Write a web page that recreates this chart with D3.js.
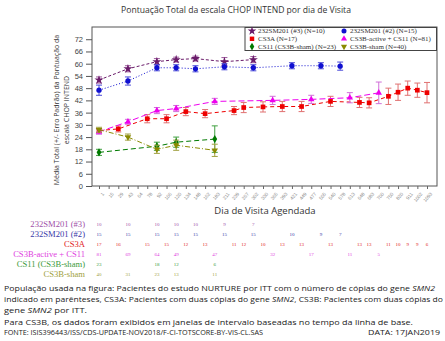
<!DOCTYPE html>
<html><head><meta charset="utf-8">
<script src="https://cdn.jsdelivr.net/npm/d3@7"></script>
<style>body{margin:0;background:#fff}svg{display:block}</style>
</head><body>
<svg id="c" width="445" height="341"></svg>
<script>
const visitDays = ["1","15","29","43","64","78","92","106","120","134","148","162","183","211","239","267","302","330","365","393","421","449","477","505","540","578","613","648","683","700","750","820","911","1002","1093"];
const yTicks = [0,6,12,18,24,30,36,42,48,54,60,66,72];

const s3Days = ["1","43","92","120","148","211","302"];
const s3Mean = [52,57.5,61,62,62.5,61,62];
const s3Err  = [1.5,1.5,1.5,1.2,1.2,2,1.5];
const s3N    = [10,10,10,10,10,9,7];

const s2Days = ["1","43","92","120","148","211","302","421","505","578"];
const s2Mean = [47,51.5,58,58,57.5,58.5,58,59,59,58.8];
const s2Err  = [2.5,2,1.5,1.5,1.5,1.5,1.5,1.5,1.5,2];
const s2N    = [15,15,15,15,15,15,15,10,9,7];

const aDays = ["1","29","78","106","134","162","239","267","330","393","449","540","648","683","750","820","911","1002","1093"];
const aMean = [27.2,28,33,33,36.5,35.5,37,38.5,38.8,39,39,41.5,41,40.8,44,46,48,47,45.8];
const aErr  = [1,1.5,2,2,2,2,2,2.5,2.5,2.5,2.5,2.5,2.5,2.5,4,4,3.5,3.5,5];
const aN    = [17,16,15,15,12,13,11,12,10,13,13,13,13,13,11,10,9,9,6];

const bDays = ["1","43","92","120","183","365","477","613","700"];
const bMean = [26.6,31.5,37,38,41.5,42,42.5,43.3,45.7];
const bErr  = [1.2,1.2,1.5,1.5,1.5,2,2,2.5,5.3];
const bN    = [81,69,64,49,47,32,17,11,5];

const gDays = ["1","92","120","183"];
const gMean = [16.5,19.5,21.5,23];
const gErr  = [1.5,2,2.5,6.5];
const gN    = [23,18,12,6];

const oDays = ["1","43","92","120","183"];
const oMean = [27.6,24,18,20,17.5];
const oErr  = [1.2,1.5,2,2.5,3];
const oN    = [40,31,23,13,11];

const series = [
  {name:"232SM201 (#3)", legend:"232SM201 (#3) (N=10)", days:s3Days, mean:s3Mean, err:s3Err, n:s3N, color:"#6a1b6a", errColor:"#9c5a9c", txt:"#a050a8", sym:d3.symbolStar, size:26, dash:"3,2", rot:0},
  {name:"232SM201 (#2)", legend:"232SM201 (#2) (N=15)", days:s2Days, mean:s2Mean, err:s2Err, n:s2N, color:"#1010d0", errColor:"#4a4ad8", txt:"#3838a8", sym:d3.symbolCircle, size:22, dash:"1,2", rot:0},
  {name:"CS3A", legend:"CS3A (N=17)", days:aDays, mean:aMean, err:aErr, n:aN, color:"#ee0000", errColor:"#e07070", txt:"#e02020", sym:d3.symbolSquare, size:22, dash:"4,3", rot:0},
  {name:"CS3B-active + CS11", legend:"CS3B-active + CS11 (N=81)", days:bDays, mean:bMean, err:bErr, n:bN, color:"#ee00ee", errColor:"#d070d8", txt:"#e040e0", sym:d3.symbolTriangle, size:18, dash:"6,3", rot:0},
  {name:"CS11 (CS3B-sham)", legend:"CS11 (CS3B-sham) (N=23)", days:gDays, mean:gMean, err:gErr, n:gN, color:"#007a00", errColor:"#40a040", txt:"#3a9a3a", sym:d3.symbolDiamond, size:20, dash:"5,3", rot:0},
  {name:"CS3B-sham", legend:"CS3B-sham (N=40)", days:oDays, mean:oMean, err:oErr, n:oN, color:"#8a8a00", errColor:"#a0a040", txt:"#a0a040", sym:d3.symbolTriangle, size:18, dash:"5,2,1,2", rot:180}
];

const svg = d3.select("#c");
const L=92, R=437, T=27, B=186;
const x = d3.scalePoint().domain(visitDays).range([99,427]);
const y = d3.scaleLinear().domain([0,78]).range([B,T]);

svg.append("text").attr("x",236).attr("y",13).attr("text-anchor","middle")
  .attr("font-family","Open Sans").attr("font-size",8.6).attr("fill","#333")
  .text("Pontuação Total da escala CHOP INTEND por dia de Visita");

svg.append("rect").attr("x",L).attr("y",T).attr("width",R-L).attr("height",B-T)
  .attr("fill","none").attr("stroke","#555").attr("stroke-width",1);

const ya = svg.append("g").attr("transform",`translate(${L},0)`)
  .call(d3.axisLeft(y).tickValues(yTicks).tickSize(6).tickPadding(3));
ya.select(".domain").remove();
ya.selectAll("line").attr("stroke","#555");
ya.selectAll("text").attr("font-family","Liberation Sans").attr("font-size",7.5).attr("fill","#444");

const xa = svg.append("g").attr("transform",`translate(0,${B})`)
  .call(d3.axisBottom(x).tickSize(3).tickPadding(2));
xa.select(".domain").remove();
xa.selectAll("line").attr("stroke","#666");
xa.selectAll("text").attr("font-family","Liberation Sans").attr("font-size",4.8).attr("fill","#888")
  .attr("text-anchor","end").attr("dy","0.3em")
  .attr("transform","translate(0,4) rotate(-50)");

svg.append("text").attr("x",265).attr("y",214).attr("text-anchor","middle")
  .attr("font-family","Open Sans").attr("font-size",9.5).attr("fill","#333").text("Dia de Visita Agendada");
const yt = svg.append("text").attr("transform","translate(59,110) rotate(-90)").attr("text-anchor","middle")
  .attr("font-family","Open Sans").attr("font-size",7).attr("fill","#333");
yt.append("tspan").attr("x",0).attr("dy",0).text("Média Total (+/- Erro Padrão) da Pontuação da");
yt.append("tspan").attr("x",0).attr("dy",10).text("escala CHOP INTEND");

const plot = svg.append("g");
series.forEach(s=>{
  const pts = s.days.map((d,i)=>({x:x(d), m:s.mean[i], e:s.err[i]}));
  plot.append("path").datum(pts)
    .attr("d",d3.line().x(p=>p.x).y(p=>y(p.m)))
    .attr("fill","none").attr("stroke",s.color).attr("stroke-width",1).attr("stroke-dasharray",s.dash);
  const eb = plot.append("g").attr("stroke",s.errColor).attr("stroke-width",1);
  pts.forEach(p=>{
    eb.append("line").attr("x1",p.x).attr("x2",p.x).attr("y1",y(p.m-p.e)).attr("y2",y(p.m+p.e));
    eb.append("line").attr("x1",p.x-3).attr("x2",p.x+3).attr("y1",y(p.m-p.e)).attr("y2",y(p.m-p.e));
    eb.append("line").attr("x1",p.x-3).attr("x2",p.x+3).attr("y1",y(p.m+p.e)).attr("y2",y(p.m+p.e));
  });
  plot.append("g").selectAll("path").data(pts).join("path")
    .attr("d",d3.symbol().type(s.sym).size(s.size))
    .attr("transform",p=>`translate(${p.x},${y(p.m)}) rotate(${s.rot})`)
    .attr("fill",s.color);
});

const lg = svg.append("g");
lg.append("rect").attr("x",245).attr("y",T+0.5).attr("width",R-245-0.5).attr("height",23)
  .attr("fill","#fff").attr("stroke","#444").attr("stroke-width",1);
series.forEach((s,i)=>{
  const col=i%2, row=Math.floor(i/2);
  const lx = col===0?252:344, ly = 31+row*7.8;
  lg.append("path").attr("d",d3.symbol().type(s.sym).size(s.size*0.9))
    .attr("transform",`translate(${lx},${ly}) rotate(${s.rot})`).attr("fill",s.color);
  lg.append("text").attr("x",lx+6).attr("y",ly+2.4).attr("font-family","Liberation Serif")
    .attr("font-size",7).attr("fill","#333").text(s.legend);
});

series.forEach((s,i)=>{
  const ry = 227+i*10;
  svg.append("text").attr("x",85).attr("y",ry).attr("text-anchor","end")
    .attr("font-family","Liberation Serif").attr("font-size",8.6).attr("fill",s.txt).text(s.name);
  svg.append("g").selectAll("text").data(s.days).join("text")
    .attr("x",d=>x(d)).attr("y",ry-1).attr("text-anchor","middle")
    .attr("font-family","Liberation Serif").attr("font-size",5).attr("fill",s.txt)
    .text((d,j)=>s.n[j]);
});

const fn = svg.append("g").attr("font-family","Open Sans").attr("font-size",7.8).attr("fill","#222");
function line(yy, parts, len){
  const t = fn.append("text").attr("x",4).attr("y",yy);
  if(len) t.attr("textLength",len).attr("lengthAdjust","spacingAndGlyphs");
  parts.forEach(p=>{ const ts=t.append("tspan").text(p[0]); if(p[1]) ts.attr("font-style","italic"); });
  return t;
}
line(291,[["População usada na figura: Pacientes do estudo NURTURE por ITT com o número de cópias do gene "],["SMN2",1]],431);
line(302,[["indicado em parênteses, CS3A: Pacientes com duas cópias do gene "],["SMN2",1],[", CS3B: Pacientes com duas cópias do"]],439);
line(313,[["gene "],["SMN2",1],[" por ITT."]],83);
line(324.5,[["Para CS3B, os dados foram exibidos em janelas de intervalo baseadas no tempo da linha de base."]],409);
line(335,[["FONTE: ISIS396443/ISS/CDS-UPDATE-NOV2018/F-CI-TOTSCORE-BY-VIS-CL.SAS"]],259);
fn.append("text").attr("x",368).attr("y",335).attr("textLength",72).attr("lengthAdjust","spacingAndGlyphs").text("DATA: 17JAN2019");
</script>
</body></html>
